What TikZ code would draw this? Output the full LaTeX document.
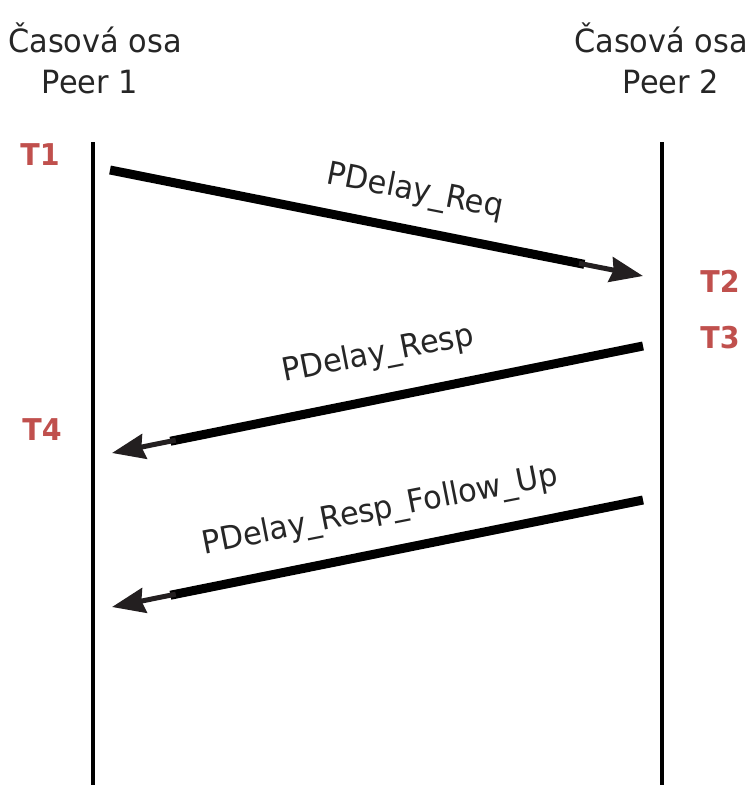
\documentclass[tikz,border=0pt]{standalone}
\usepackage{fontspec}
\setmainfont{DejaVu Sans}[FakeStretch=0.95]
\usetikzlibrary{arrows.meta,calc}
\definecolor{tred}{RGB}{192,80,77}
\tikzset{
  x=1pt, y=-1pt,
  axisline/.style={line width=4.5pt, black},
  msgthick/.style={line width=9pt, black},
  msgthin/.style={line width=5pt, draw={rgb,255:red,35;green,31;blue,32},
    -{Stealth[length=33pt, width=25pt, inset=3pt]}},
  title/.style={font=\fontsize{32}{36}\selectfont, text=black!85, inner sep=0pt},
  tlabel/.style={font=\fontsize{30}{34}\selectfont\bfseries, text=tred, inner sep=0pt},
  msglabel/.style={font=\fontsize{32}{36}\selectfont, text=black!85, inner sep=0pt}
}
\begin{document}
\begin{tikzpicture}
\useasboundingbox (0,0) rectangle (750,785);

% headings
\node[title] (h1a) at (95,38) {Časová osa};
\node[title] (h1b) at (90,82) {Peer 1};
\node[title] (h2a) at (661,38) {Časová osa};
\node[title] (h2b) at (671,82) {Peer 2};

% time axes
\coordinate (l1) at (93,142);
\coordinate (l2) at (93,785);
\coordinate (r1) at (662,142);
\coordinate (r2) at (662,785);
\draw[axisline] (l1) -- (l2);
\draw[axisline] (r1) -- (r2);

% timestamps
\node[tlabel] (T1) at (40,155) {T1};
\node[tlabel] (T2) at (720,281) {T2};
\node[tlabel] (T3) at (720,338) {T3};
\node[tlabel] (T4) at (42,430) {T4};

% message end points
\coordinate (a1s) at (110,170);
\coordinate (a1e) at (643,276);
\coordinate (a2s) at (643,346);
\coordinate (a2e) at (112,453);
\coordinate (a3s) at (643,500);
\coordinate (a3e) at (112,607);

% messages: heavy shaft, then a lighter shaft ending in the head
\foreach \s/\e in {a1s/a1e, a2s/a2e, a3s/a3e}{
  \coordinate (\s m) at ($(\s)!0.89!(\e)$);
  \draw[msgthick] (\s) -- (\s m);
  \draw[msgthin] ($(\s)!0.88!(\e)$) -- (\e);
}

% message names
\node[msglabel, rotate=-11.1] (m1) at (415,192) {PDelay\_Req};
\node[msglabel, rotate=11.1] (m2) at (378,355) {PDelay\_Resp};
\node[msglabel, rotate=11.1] (m3) at (380,511) {PDelay\_Resp\_Follow\_Up};
\end{tikzpicture}
\end{document}
